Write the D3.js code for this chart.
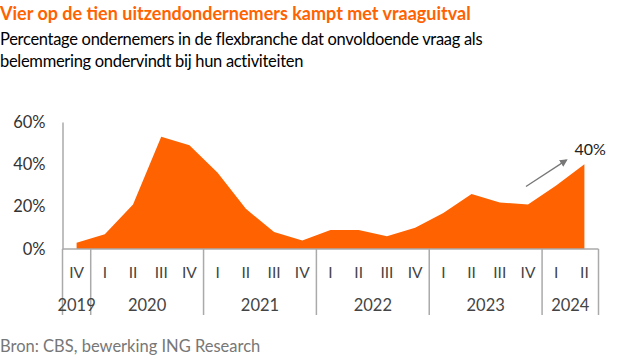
<!DOCTYPE html>
<html><head><meta charset="utf-8">
<script src="https://cdn.jsdelivr.net/npm/d3@7"></script>
<style>
body{margin:0;background:#fff;}
svg{display:block;font-family:Lato,"Open Sans",sans-serif;}
</style></head>
<body><svg id="c" width="627" height="360"></svg>
<script>
const quarters = ["IV","I","II","III","IV","I","II","III","IV","I","II","III","IV","I","II","III","IV","I","II"];
const years = ["2019","2020","2020","2020","2020","2021","2021","2021","2021","2022","2022","2022","2022","2023","2023","2023","2023","2024","2024"];
const values = [3,7,21,53,49,36,19,8,4,9,9,6,10,17,26,22,21,30,40];
const yTicks = [0,20,40,60];

const svg = d3.select("#c");
const x0=62.5, x1=598.5, yBase=249, yTop=122;
const keys = values.map((d,i)=>i);
const x = d3.scaleBand().domain(keys).range([x0,x1]);
const y = d3.scaleLinear().domain([0,60]).range([yBase,yTop]);
const cx = i => x(i)+x.bandwidth()/2;

// Title
svg.append("text").attr("x",0).attr("y",20).attr("fill","#FF6200")
  .style("font-size","18px").style("font-weight","700")
  .text("Vier op de tien uitzendondernemers kampt met vraaguitval");
svg.append("text").attr("x",0).attr("y",45).attr("fill","#000")
  .style("font-size","16.5px").style("letter-spacing","-0.3px").text("Percentage ondernemers in de flexbranche dat onvoldoende vraag als");
svg.append("text").attr("x",0).attr("y",67).attr("fill","#000")
  .style("font-size","16.5px").style("letter-spacing","-0.3px").text("belemmering ondervindt bij hun activiteiten");

// Area
const area = d3.area().x((d,i)=>cx(i)).y0(yBase).y1(d=>y(d));
svg.append("path").datum(values).attr("d",area).attr("fill","#FF6200");

// y axis
const ya = svg.append("g").attr("transform",`translate(${x0},0)`)
  .call(d3.axisLeft(y).tickValues(yTicks).tickFormat(d=>d+"%").tickSize(0).tickPadding(17));
ya.select(".domain").attr("stroke","#aaa").attr("stroke-width",1.5);
ya.selectAll("text").style("font-size","16.5px").attr("fill","#333").style("font-family","Lato,'Open Sans',sans-serif");

// x axis line
svg.append("line").attr("x1",x0).attr("x2",x1).attr("y1",yBase).attr("y2",yBase)
  .attr("stroke","#aaa").attr("stroke-width",1.5);

// quarter labels
svg.append("g").selectAll("text").data(quarters).join("text")
  .attr("x",(d,i)=>cx(i)).attr("y",278).attr("text-anchor","middle")
  .attr("fill","#444").style("font-size","15.5px").text(d=>d);

// year groups
const groups = [];
years.forEach((yr,i)=>{
  if(!groups.length || groups[groups.length-1].yr!==yr) groups.push({yr,start:i,end:i});
  else groups[groups.length-1].end=i;
});
const seps = [x0];
groups.forEach(g=>seps.push(x(g.end)+x.bandwidth()));
svg.append("g").selectAll("line").data(seps).join("line")
  .attr("x1",d=>d).attr("x2",d=>d).attr("y1",yBase).attr("y2",315)
  .attr("stroke","#aaa").attr("stroke-width",1.5);
svg.append("g").selectAll("text").data(groups).join("text")
  .attr("x",g=>(x(g.start)+x(g.end)+x.bandwidth())/2).attr("y",311).attr("text-anchor","middle")
  .attr("fill","#444").style("font-size","16.5px").text(g=>g.yr);

// arrow annotation
const last = values.length-1;
svg.append("defs").append("marker").attr("id","ah").attr("viewBox","0 0 10 10")
  .attr("refX",8).attr("refY",5).attr("markerWidth",6).attr("markerHeight",6).attr("orient","auto")
  .append("path").attr("d","M0,0L10,5L0,10z").attr("fill","#777");
svg.append("line").attr("x1",cx(last-2)-2).attr("y1",y(29.5)).attr("x2",cx(last)-18).attr("y2",y(42))
  .attr("stroke","#777").attr("stroke-width",1.3).attr("marker-end","url(#ah)");
svg.append("text").attr("x",cx(last)-10).attr("y",y(values[last])-9).attr("fill","#222")
  .style("font-size","16px").text(values[last]+"%");

// footer
svg.append("text").attr("x",0).attr("y",352).attr("fill","#777")
  .style("font-size","16.5px").text("Bron: CBS, bewerking ING Research");
</script></body></html>
